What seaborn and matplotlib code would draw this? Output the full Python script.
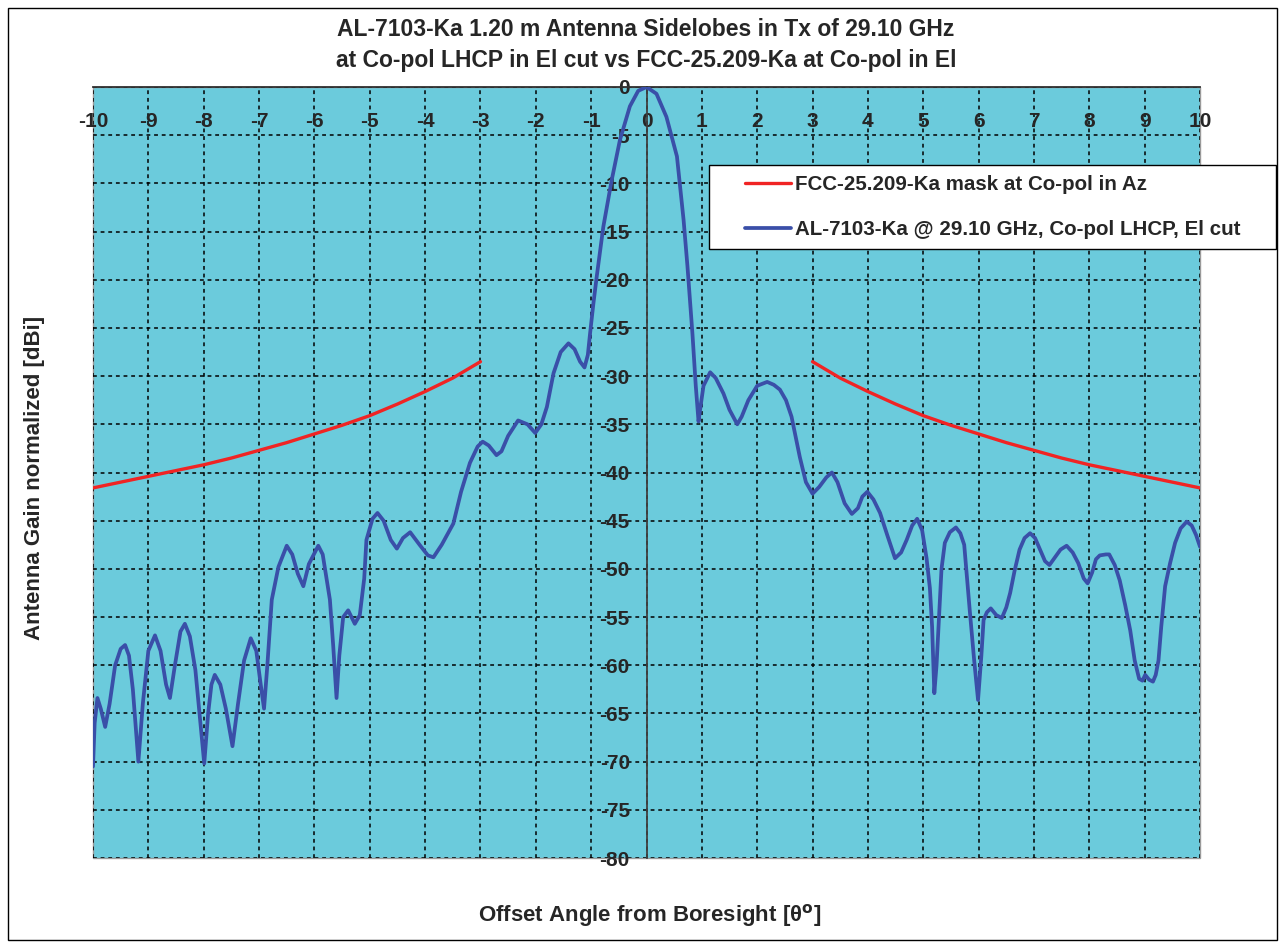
import matplotlib
matplotlib.use("Agg")
import matplotlib.pyplot as plt
import numpy as np
import pandas as pd
import seaborn as sns
from matplotlib.patches import Rectangle

# FCC-25.209 Ka mask, mirrored on both sides
mask_angle = [3.0, 3.5, 4.0, 4.5, 5.0, 5.5, 6.0, 6.5, 7.0, 7.5, 8.0, 8.5, 9.0, 9.5, 10.0]
mask_gain = [-28.5, -30.2, -31.6, -32.9, -34.1, -35.1, -36.0, -36.9, -37.7, -38.5,
             -39.2, -39.8, -40.4, -41.0, -41.6]

# measured El-cut pattern, co-pol LHCP, 29.10 GHz
pattern_angle = [
    -10.00, -9.97, -9.92, -9.86, -9.78, -9.70, -9.60, -9.50, -9.42, -9.35, -9.28, -9.18,
    -9.10, -9.00, -8.88, -8.78, -8.68, -8.61, -8.52, -8.42, -8.34, -8.25, -8.15, -8.06,
    -7.99, -7.92, -7.86, -7.80, -7.70, -7.60, -7.48, -7.38, -7.27, -7.15, -7.05, -6.97,
    -6.91, -6.85, -6.77, -6.65, -6.50, -6.40, -6.30, -6.20, -6.10, -5.93, -5.85, -5.78,
    -5.72, -5.66, -5.60, -5.55, -5.48, -5.39, -5.33, -5.27, -5.18, -5.10, -5.06, -4.95,
    -4.86, -4.75, -4.62, -4.51, -4.40, -4.27, -4.10, -3.95, -3.85, -3.70, -3.49, -3.35,
    -3.19, -3.05, -2.96, -2.85, -2.71, -2.62, -2.50, -2.32, -2.15, -2.01, -1.90, -1.80,
    -1.68, -1.55, -1.41, -1.30, -1.20, -1.12, -1.06, -1.02, -0.96, -0.90, -0.78, -0.63,
    -0.48, -0.30, -0.15, 0.00, 0.18, 0.36, 0.55, 0.67, 0.74, 0.83, 0.89, 0.94,
    0.98, 1.03, 1.15, 1.25, 1.39, 1.50, 1.64, 1.72, 1.84, 2.00, 2.18, 2.30,
    2.41, 2.52, 2.62, 2.77, 2.88, 3.00, 3.12, 3.25, 3.35, 3.45, 3.58, 3.71,
    3.82, 3.90, 3.99, 4.10, 4.22, 4.35, 4.49, 4.60, 4.70, 4.80, 4.89, 4.98,
    5.06, 5.12, 5.16, 5.20, 5.24, 5.28, 5.33, 5.39, 5.48, 5.59, 5.67, 5.74,
    5.84, 5.92, 5.99, 6.05, 6.09, 6.15, 6.22, 6.32, 6.42, 6.50, 6.57, 6.65,
    6.74, 6.83, 6.93, 7.02, 7.11, 7.20, 7.28, 7.38, 7.48, 7.59, 7.70, 7.80,
    7.90, 7.97, 8.05, 8.12, 8.19, 8.30, 8.36, 8.46, 8.55, 8.65, 8.74, 8.82,
    8.90, 8.96, 9.01, 9.08, 9.15, 9.20, 9.25, 9.30, 9.37, 9.46, 9.55, 9.65,
    9.76, 9.85, 9.93, 10.00,
]
pattern_gain = [
    -70.5, -66.0, -63.4, -64.5, -66.4, -64.0, -60.0, -58.3, -57.9, -59.0, -62.5, -70.0,
    -64.0, -58.5, -56.9, -58.5, -62.0, -63.4, -60.0, -56.5, -55.7, -57.0, -60.5, -66.0,
    -70.2, -65.0, -62.0, -61.0, -62.0, -64.5, -68.4, -64.0, -59.5, -57.2, -58.5, -62.0,
    -64.5, -60.0, -53.2, -49.8, -47.6, -48.5, -50.5, -51.8, -49.5, -47.6, -48.5, -51.0,
    -53.2, -58.0, -63.4, -59.0, -55.0, -54.3, -55.0, -55.7, -54.8, -51.0, -47.0, -44.8,
    -44.2, -45.0, -47.0, -47.9, -46.8, -46.2, -47.5, -48.6, -48.8, -47.5, -45.3, -42.0,
    -39.0, -37.3, -36.8, -37.2, -38.2, -37.8, -36.2, -34.6, -35.0, -35.9, -35.0, -33.2,
    -29.7, -27.5, -26.6, -27.2, -28.5, -29.1, -27.8, -25.6, -22.5, -19.7, -14.5, -9.7,
    -5.5, -2.0, -0.4, 0.0, -0.7, -3.1, -7.2, -13.8, -18.6, -25.6, -31.0, -34.7,
    -33.0, -31.0, -29.6, -30.2, -31.8, -33.5, -35.0, -34.2, -32.5, -31.0, -30.6, -30.9,
    -31.4, -32.5, -34.2, -38.4, -41.0, -42.2, -41.5, -40.5, -40.0, -41.0, -43.2, -44.3,
    -43.7, -42.5, -42.0, -42.8, -44.2, -46.5, -48.9, -48.3, -47.0, -45.5, -44.8, -46.0,
    -48.9, -52.0, -56.0, -62.9, -60.0, -55.5, -50.0, -47.3, -46.2, -45.7, -46.3, -47.5,
    -54.3, -59.5, -63.6, -59.0, -55.3, -54.5, -54.1, -54.8, -55.1, -54.0, -52.5, -50.2,
    -48.0, -46.8, -46.3, -46.8, -48.0, -49.2, -49.6, -48.8, -48.0, -47.6, -48.3, -49.4,
    -51.0, -51.5, -50.4, -49.0, -48.6, -48.5, -48.5, -49.6, -51.2, -53.8, -56.4, -59.5,
    -61.4, -61.6, -61.0, -61.5, -61.7, -61.0, -59.5, -56.0, -51.8, -49.4, -47.3, -45.8,
    -45.1, -45.5, -46.5, -47.7,
]

x_ticks = list(range(-10, 11))
y_ticks = list(range(-80, 1, 5))

MASK_LABEL = "FCC-25.209-Ka mask at Co-pol in Az"
PATTERN_LABEL = "AL-7103-Ka @ 29.10 GHz, Co-pol LHCP, El cut"

sns.set_style("white")
plt.rcParams["font.family"] = ["Liberation Sans", "DejaVu Sans"]
plt.rcParams["font.weight"] = "bold"
plt.rcParams["axes.unicode_minus"] = False

W, H = 1285, 947
fig = plt.figure(figsize=(W / 100, H / 100), dpi=100)
ax = fig.add_axes([93 / W, 1 - 858 / H, (1200 - 93) / W, (858 - 87) / H])
ax.set_facecolor("#6bcbdc")

mask = pd.DataFrame({"angle": mask_angle, "gain": mask_gain})
left_mask = mask.assign(angle=-mask["angle"]).sort_values("angle")
sns.lineplot(data=left_mask, x="angle", y="gain", color="#f02424", lw=2.4, ax=ax,
             label=MASK_LABEL, zorder=3)
sns.lineplot(data=mask, x="angle", y="gain", color="#f02424", lw=2.4, ax=ax, zorder=3)
sns.lineplot(x=pattern_angle, y=pattern_gain, color="#3a4fa8", lw=2.7, ax=ax,
             label=PATTERN_LABEL, sort=False, zorder=4, solid_joinstyle="round")

ax.set_xlim(-10, 10)
ax.set_ylim(-80, 0)
ax.set_xticks(x_ticks)
ax.set_yticks(y_ticks)
ax.grid(True, color="black", linestyle=(0, (2.5, 2.5)), linewidth=1.1, zorder=1)
ax.set_axisbelow(True)

# Excel style: axes cross at the origin
ax.spines["left"].set_position(("data", 0))
ax.spines["bottom"].set_position(("data", 0))
ax.spines["left"].set_color("#404040")
ax.spines["left"].set_linewidth(1.3)
ax.spines["bottom"].set_color("#303030")
ax.spines["bottom"].set_linewidth(1.3)
ax.spines["top"].set_visible(False)
ax.spines["right"].set_visible(False)
ax.add_patch(Rectangle((0, 0), 1, 1, transform=ax.transAxes, fill=False,
                       edgecolor="#9a9a9a", lw=1, zorder=0.5, clip_on=False))

ax.tick_params(axis="x", length=5, width=1.2, color="#303030", direction="out",
               pad=13, labelsize=15)
ax.tick_params(axis="y", length=5, width=1.2, color="#202020", pad=7, labelsize=15)
for lbl in ax.get_xticklabels() + ax.get_yticklabels():
    lbl.set_fontweight("bold")
ax.set_xlabel("")
ax.set_ylabel("")

fig.text(646 / W, 1 - 30 / H, "AL-7103-Ka 1.20 m Antenna Sidelobes in Tx of 29.10 GHz",
         ha="center", va="center", fontsize=16.5, fontweight="bold")
fig.text(646 / W, 1 - 60 / H, "at Co-pol LHCP in El cut vs FCC-25.209-Ka at Co-pol in El",
         ha="center", va="center", fontsize=16.5, fontweight="bold")
fig.text(35 / W, 1 - 478 / H, "Antenna Gain normalized [dBi]", rotation=90,
         ha="center", va="center", fontsize=16, fontweight="bold")
fig.text(650 / W, 1 - 915 / H, r"Offset Angle from Boresight [θ$^{\mathbf{o}}$]",
         ha="center", va="center", fontsize=16, fontweight="bold")

# legend box: white frame drawn separately so the entries can sit indented like Excel
ax.add_patch(Rectangle((709 / W, 1 - 249 / H), (1276 - 709) / W, (249 - 165) / H,
                       transform=fig.transFigure, facecolor="white", edgecolor="black",
                       lw=1.0, zorder=4.9, clip_on=False))
leg = ax.legend(loc="upper left", bbox_to_anchor=(735 / W, 1 - 165 / H),
                bbox_transform=fig.transFigure, borderaxespad=0, frameon=False,
                fontsize=14.8, handlelength=2.2, handletextpad=0.2,
                labelspacing=1.25, borderpad=0.5)
leg.set_zorder(5)
for t in leg.get_texts():
    t.set_fontweight("bold")

# chart-area frame
fig.add_artist(Rectangle((8 / W, 1 - 940 / H), (1277 - 8) / W, (940 - 8) / H,
                         transform=fig.transFigure, fill=False, edgecolor="black", lw=1))

fig.savefig("out.png", dpi=100)
